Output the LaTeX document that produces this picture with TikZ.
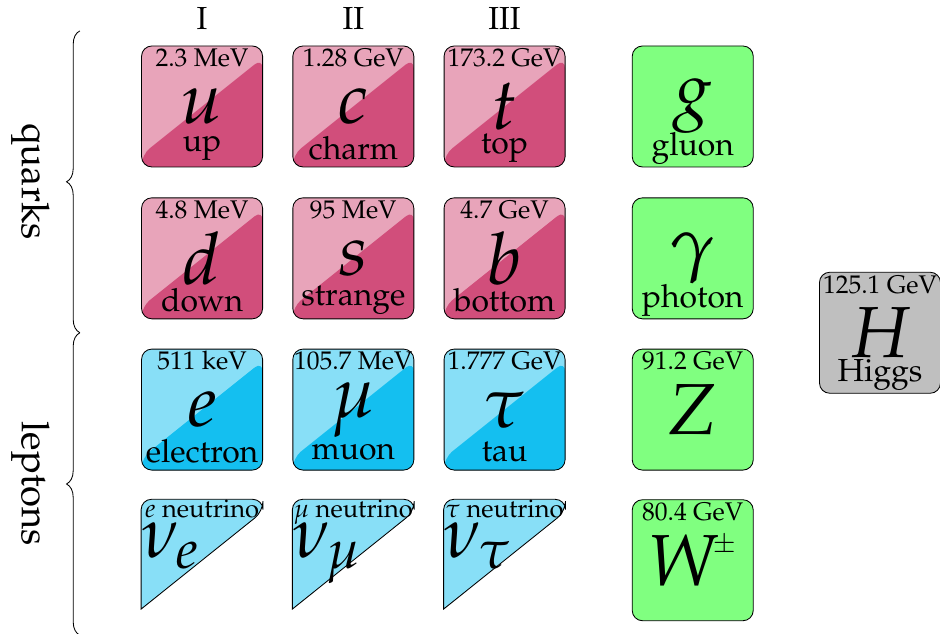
\documentclass[tikz,border=0pt]{standalone}
\usepackage[T1]{fontenc}
\usepackage{mathpazo}
\usetikzlibrary{positioning,decorations.pathreplacing}
\definecolor{quarklight}{RGB}{232,164,186}
\definecolor{quarkdark}{RGB}{209,78,123}
\definecolor{leptonlight}{RGB}{136,223,247}
\definecolor{leptondark}{RGB}{20,191,240}
\definecolor{gaugegreen}{RGB}{128,255,128}
\definecolor{higgsgray}{RGB}{191,191,191}
\tikzset{
  particle/.style={draw, rounded corners=0.17cm, minimum size=2cm, inner sep=0pt,
    font=\fontsize{34}{34}\selectfont},
  twotone/.style 2 args={particle, fill=#1, path picture={
      \fill[#2] ([yshift=0.2cm]path picture bounding box.south west)
        |- (path picture bounding box.south east)
        -- ([yshift=-0.2cm]path picture bounding box.north east) -- cycle;}},
  quark/.style={twotone={quarklight}{quarkdark}},
  lepton/.style={twotone={leptonlight}{leptondark}},
  boson/.style={particle, fill=gaugegreen},
  scalar/.style={particle, fill=higgsgray},
  ghost/.style={minimum size=2cm, inner sep=0pt},
  neutrino/.style={draw, fill=leptonlight},
  nusym/.style={anchor=base west, inner sep=0pt, font=\fontsize{34}{34}\selectfont},
  mass/.style={anchor=base, inner sep=0pt, font=\fontsize{12}{14}\selectfont},
  pname/.style={inner sep=0pt, font=\fontsize{15}{17}\selectfont},
  gen/.style={inner sep=0pt, font=\fontsize{15}{17}\selectfont},
  group/.style={inner sep=0pt, rotate=-90, font=\fontsize{18}{20}\selectfont},
  brace/.style={decorate, decoration={brace, amplitude=0.22cm}},
}

\begin{document}
\begin{tikzpicture}
  \useasboundingbox (0,0) rectangle (15.537,-10.479);

  % Row 1: up-type quarks and gluon
  \node[quark] (u) at (3.34,-1.76) {$u$};
  \node[mass] (umass) at ([yshift=-0.35cm]u.north) {2.3 MeV};
  \node[pname] (uname) at ([yshift=0.31cm]u.south) {up};
  \node[quark] (c) at (5.84,-1.76) {$c$};
  \node[mass] (cmass) at ([yshift=-0.35cm]c.north) {1.28 GeV};
  \node[pname] (cname) at ([yshift=0.31cm]c.south) {charm};
  \node[quark] (t) at (8.34,-1.76) {$t$};
  \node[mass] (tmass) at ([yshift=-0.35cm]t.north) {173.2 GeV};
  \node[pname] (tname) at ([yshift=0.31cm]t.south) {top};
  \node[boson] (g) at (11.45,-1.76) {$g$};
  \node[pname] (gname) at ([yshift=0.31cm]g.south) {gluon};

  % Row 2: down-type quarks and photon
  \node[quark] (d) at (3.34,-4.27) {$d$};
  \node[mass] (dmass) at ([yshift=-0.35cm]d.north) {4.8 MeV};
  \node[pname] (dname) at ([yshift=0.31cm]d.south) {down};
  \node[quark] (s) at (5.84,-4.27) {$s$};
  \node[mass] (smass) at ([yshift=-0.35cm]s.north) {95 MeV};
  \node[pname] (sname) at ([yshift=0.31cm]s.south) {strange};
  \node[quark] (b) at (8.34,-4.27) {$b$};
  \node[mass] (bmass) at ([yshift=-0.35cm]b.north) {4.7 GeV};
  \node[pname] (bname) at ([yshift=0.31cm]b.south) {bottom};
  \node[boson] (gamma) at (11.45,-4.27) {$\gamma$};
  \node[pname] (gammaname) at ([yshift=0.31cm]gamma.south) {photon};

  % Row 3: charged leptons and Z
  \node[lepton] (e) at (3.34,-6.77) {$e$};
  \node[mass] (emass) at ([yshift=-0.35cm]e.north) {511 keV};
  \node[pname] (ename) at ([yshift=0.31cm]e.south) {electron};
  \node[lepton] (mu) at (5.84,-6.77) {$\mu$};
  \node[mass] (mumass) at ([yshift=-0.35cm]mu.north) {105.7 MeV};
  \node[pname] (muname) at ([yshift=0.31cm]mu.south) {muon};
  \node[lepton] (tau) at (8.34,-6.77) {$\tau$};
  \node[mass] (taumass) at ([yshift=-0.35cm]tau.north) {1.777 GeV};
  \node[pname] (tauname) at ([yshift=0.31cm]tau.south) {tau};
  \node[boson] (Z) at (11.45,-6.77) {$Z$};
  \node[mass] (Zmass) at ([yshift=-0.35cm]Z.north) {91.2 GeV};

  % Row 4: neutrinos (upper half only) and W
  \node[ghost] (nue) at (3.34,-9.26) {};
  \node[ghost] (numu) at (5.84,-9.26) {};
  \node[ghost] (nutau) at (8.34,-9.26) {};
  \filldraw[neutrino] ([yshift=0.2cm]nue.south west) [rounded corners=0.17cm]
    |- (nue.north east) -- ([yshift=-0.2cm]nue.north east) [sharp corners] -- cycle;
  \filldraw[neutrino] ([yshift=0.2cm]numu.south west) [rounded corners=0.17cm]
    |- (numu.north east) -- ([yshift=-0.2cm]numu.north east) [sharp corners] -- cycle;
  \filldraw[neutrino] ([yshift=0.2cm]nutau.south west) [rounded corners=0.17cm]
    |- (nutau.north east) -- ([yshift=-0.2cm]nutau.north east) [sharp corners] -- cycle;
  \node[mass] (nuename) at ([yshift=-0.30cm]nue.north) {$e$ neutrino};
  \node[mass] (numuname) at ([yshift=-0.30cm]numu.north) {$\mu$ neutrino};
  \node[mass] (nutauname) at ([yshift=-0.30cm]nutau.north) {$\tau$ neutrino};
  \node[nusym] (nuesym) at ([yshift=0.04cm]nue.west) {$\nu_e$};
  \node[nusym] (numusym) at ([yshift=0.04cm]numu.west) {$\nu_\mu$};
  \node[nusym] (nutausym) at ([yshift=0.04cm]nutau.west) {$\nu_\tau$};
  \node[boson] (W) at (11.45,-9.26)
    {$W^{\mkern-2mu\raisebox{3pt}{\fontsize{13}{13}\selectfont$\pm$}}$};
  \node[mass] (Wmass) at ([yshift=-0.35cm]W.north) {80.4 GeV};

  % Higgs
  \node[scalar] (H) at (14.545,-5.50) {$H$};
  \node[mass] (Hmass) at ([yshift=-0.35cm]H.north) {125.1 GeV};
  \node[pname] (Hname) at ([yshift=0.31cm]H.south) {Higgs};

  % generations
  \node[gen, above=0.26cm of u] (genI) {I};
  \node[gen, above=0.26cm of c] (genII) {II};
  \node[gen, above=0.26cm of t] (genIII) {III};

  % braces and groups
  \coordinate (qtop) at (1.32,-0.51);
  \coordinate (qbot) at (1.32,-5.50);
  \coordinate (lbot) at (1.32,-10.50);
  \draw[brace] (qbot) -- (qtop);
  \draw[brace] (lbot) -- (qbot);
  \node[group] (quarks) at (0.50,-3.0) {quarks};
  \node[group] (leptons) at (0.50,-8.0) {leptons};

\end{tikzpicture}
\end{document}
